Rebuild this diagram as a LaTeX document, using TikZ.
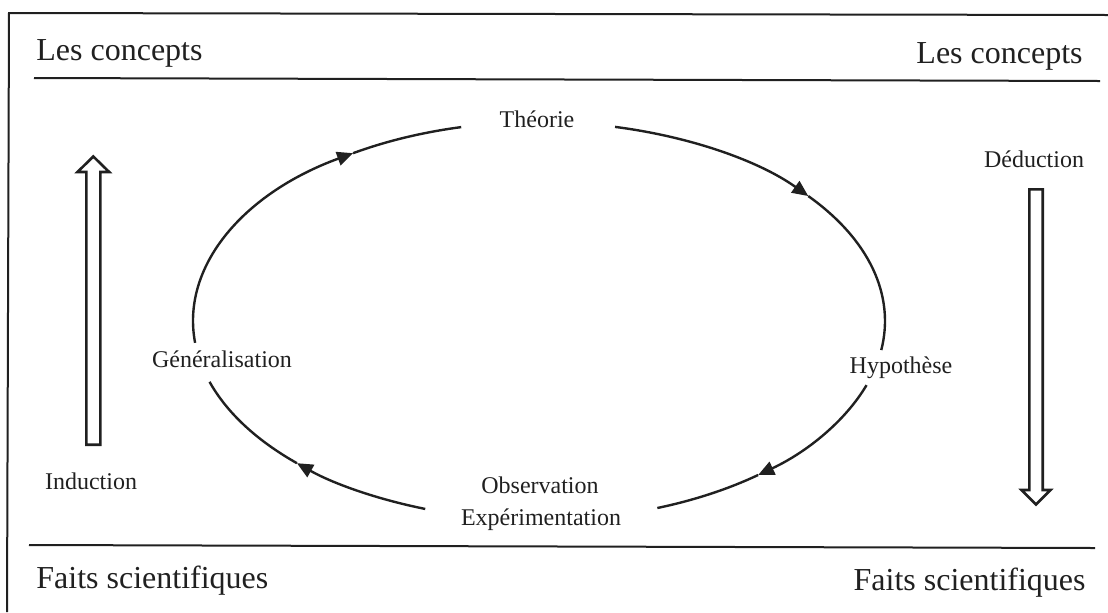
\documentclass[tikz,border=0pt]{standalone}
\usepackage{fontspec}
\setmainfont{Liberation Serif}
\usetikzlibrary{arrows.meta}
\definecolor{ink}{RGB}{32,32,32}
\begin{document}
\begin{tikzpicture}[x=0.5pt,y=-0.5pt,
  every node/.style={inner sep=0pt, text=ink},
  heading/.style={font=\fontsize{16}{19}\selectfont},
  stage/.style={font=\fontsize{12}{16}\selectfont},
  rule/.style={draw=ink, line width=1pt},
  cyclearc/.style={draw=ink, line width=1.2pt},
  arcarrow/.style={-{Triangle[length=8pt,width=7pt]}},
  blockarrow/.style={draw=ink, line width=1.3pt, fill=white, line join=miter},
  ell/.style={x radius=173pt, y radius=99.5pt}
]
\useasboundingbox (0,0) rectangle (1108,612);

% outer frame (top and left edges) and the two horizontal rules
\draw[rule] (7,612) -- (9,13) -- (1108,15);
\draw[rule] (34,78) -- (1100,81);
\draw[rule] (29,545) -- (1095,548);

% level headings
\node[heading, anchor=base west] (conceptsL) at (36,60) {Les concepts};
\node[heading, anchor=base east] (conceptsR) at (1083,63) {Les concepts};
\node[heading, anchor=base west] (faitsL) at (36,588) {Faits scientifiques};
\node[heading, anchor=base east] (faitsR) at (1086,590) {Faits scientifiques};

% stages of the cycle
\node[stage, anchor=base] (theorie) at (537,127) {Théorie};
\node[stage, anchor=base] (hypothese) at (901,373) {Hypothèse};
\node[stage, anchor=base] (observation) at (540,493) {Observation};
\node[stage, anchor=base] (experimentation) at (541,525) {Expérimentation};
\node[stage, anchor=base] (generalisation) at (222,367) {Généralisation};

% side labels
\node[stage, anchor=base] (induction) at (91,489) {Induction};
\node[stage, anchor=base] (deduction) at (1034,167) {Déduction};

% points on the ellipse (centre 539,321; radii 346 x 199)
\foreach \name/\t in {th1/103, th2/77.3, a1/38.9, hy1/-8.4,
                      hy2/-18.8, a2/-50.7, ob1/-70,
                      ob2/-109.2, a3/-134.4, ge1/-162.2,
                      ge2/186.3, a4/122.5}
  \coordinate (\name) at ({539+346*cos(\t)},{321-199*sin(\t)});

% Théorie -> Hypothèse
\draw[cyclearc, arcarrow] (th2) arc[ell, start angle=77.3, end angle=38.9];
\draw[cyclearc] (a1) arc[ell, start angle=38.9, end angle=-8.4];
% Hypothèse -> Observation
\draw[cyclearc, arcarrow] (hy2) arc[ell, start angle=-18.8, end angle=-50.7];
\draw[cyclearc] (a2) arc[ell, start angle=-50.7, end angle=-70];
% Observation -> Généralisation
\draw[cyclearc, arcarrow] (ob2) arc[ell, start angle=-109.2, end angle=-134.4];
\draw[cyclearc] (a3) arc[ell, start angle=-134.4, end angle=-162.2];
% Généralisation -> Théorie
\draw[cyclearc, arcarrow] (ge2) arc[ell, start angle=186.3, end angle=122.5];
\draw[cyclearc] (a4) arc[ell, start angle=122.5, end angle=103];

% hollow block arrows: induction (up) and deduction (down)
\draw[blockarrow] (86.3,444.7) -- (86.3,172) -- (77.5,172) -- (93.3,156.5)
  -- (109.2,172) -- (100.4,172) -- (100.4,444.7) -- cycle;
\draw[blockarrow] (1029.3,189.3) -- (1042.7,189.3) -- (1042.7,490)
  -- (1050.5,490) -- (1036,504.5) -- (1021.5,490) -- (1029.3,490) -- cycle;
\end{tikzpicture}
\end{document}
